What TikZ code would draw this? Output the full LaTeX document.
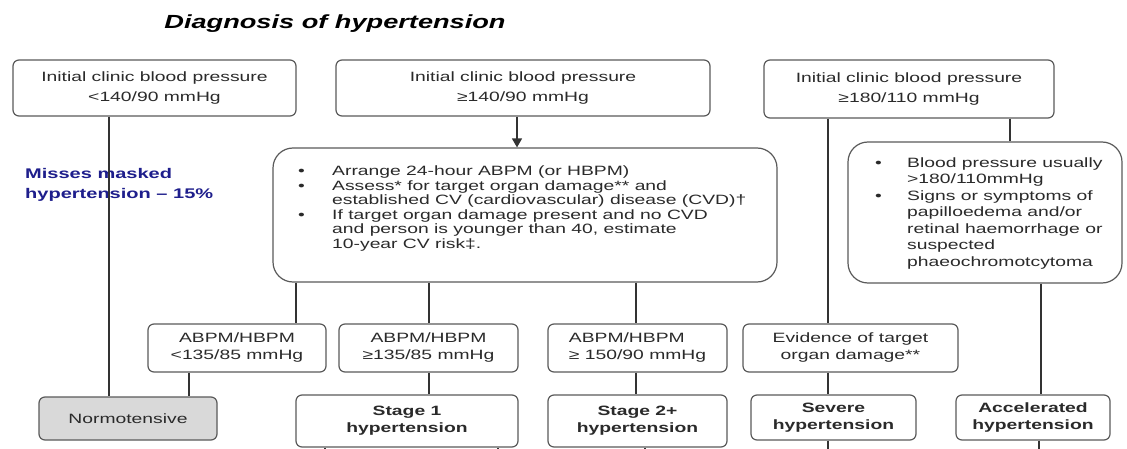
\documentclass[tikz,border=0pt]{standalone}
\usepackage{fontspec}
\setmainfont{Liberation Sans}[FakeStretch=1.43]
\usetikzlibrary{arrows.meta}
\definecolor{bordergray}{HTML}{5A5A5A}
\definecolor{linegray}{HTML}{333333}
\definecolor{txt}{HTML}{2A2A2A}
\definecolor{navy}{RGB}{30,30,140}
\definecolor{normfill}{HTML}{D9D9D9}
\begin{document}
\begin{tikzpicture}[x=1pt,y=-1pt,
  box/.style={draw=bordergray, line width=1.2pt, rounded corners=6pt, inner sep=0pt,
    align=center, text=txt, font=\fontsize{13.5}{17}\selectfont},
  topbox/.style={box, font=\fontsize{13.5}{20}\selectfont},
  bigbox/.style={box, rounded corners=20pt},
  outbox/.style={box, font=\bfseries\fontsize{13.5}{17}\selectfont},
  conn/.style={draw=linegray, line width=1.4pt},
  arr/.style={conn, -{Triangle[length=9pt,width=10pt]}},
  bullettext/.style={anchor=north west, inner sep=0pt, text=txt, align=left}
]
\useasboundingbox[fill=white] (0,0) rectangle (1127,449);

% title
\node[font=\bfseries\itshape\fontsize{19}{22}\selectfont, text=black] (title) at (335,24) {Diagnosis of hypertension};

% top boxes
\node[topbox, minimum width=283pt, minimum height=56pt] (A) at (154.5,88) {Initial clinic blood pressure\\<140/90 mmHg};
\node[topbox, minimum width=374pt, minimum height=56pt] (B) at (523,88) {Initial clinic blood pressure\\≥140/90 mmHg};
\node[topbox, minimum width=290pt, minimum height=58pt] (C) at (909,89) {Initial clinic blood pressure\\≥180/110 mmHg};

% large boxes
\node[bigbox, minimum width=504pt, minimum height=134pt] (M) at (525,215) {};
\node[bigbox, minimum width=274pt, minimum height=141pt] (R) at (985,212.5) {};

\node[bullettext, font=\fontsize{13.5}{14.6}\selectfont] (Mtxt) at (298,165) {%
\begin{tabular}{@{}p{34pt}@{}l@{}}
• & Arrange 24-hour ABPM (or HBPM)\\
• & Assess* for target organ damage** and\\
  & established CV (cardiovascular) disease (CVD)†\\
• & If target organ damage present and no CVD\\
  & and person is younger than 40, estimate\\
  & 10-year CV risk‡.
\end{tabular}};

\node[bullettext, font=\fontsize{13.5}{16.5}\selectfont] (Rtxt) at (875,155.5) {%
\begin{tabular}{@{}p{32pt}@{}l@{}}
• & Blood pressure usually\\
  & >180/110mmHg\\
• & Signs or symptoms of\\
  & papilloedema and/or\\
  & retinal haemorrhage or\\
  & suspected\\
  & phaeochromotcytoma
\end{tabular}};

% second row
\node[box, minimum width=178pt, minimum height=48pt] (P1) at (237,348) {ABPM/HBPM\\<135/85 mmHg};
\node[box, minimum width=179pt, minimum height=48pt] (P2) at (428.5,348) {ABPM/HBPM\\≥135/85 mmHg};
\node[box, minimum width=179pt, minimum height=48pt, align=left] (P3) at (637.5,348) {ABPM/HBPM\\≥ 150/90 mmHg};
\node[box, minimum width=215pt, minimum height=48pt] (Ev) at (850.5,348) {Evidence of target\\organ damage**};

% outcome row
\node[box, fill=normfill, minimum width=178pt, minimum height=43pt] (N) at (128,418.5) {Normotensive};
\node[outbox, minimum width=222pt, minimum height=52pt] (S1) at (407,421) {Stage 1\\hypertension};
\node[outbox, minimum width=179pt, minimum height=52pt] (S2) at (637.5,421) {Stage 2+\\hypertension};
\node[outbox, minimum width=165pt, minimum height=45pt] (Sev) at (833.5,417.5) {Severe\\hypertension};
\node[outbox, minimum width=154pt, minimum height=45pt] (Acc) at (1033,417.5) {Accelerated\\hypertension};

% side note
\node[anchor=west, align=left, inner sep=0pt, text=navy, font=\bfseries\fontsize{14}{20}\selectfont] (miss) at (25,185) {Misses masked\\hypertension – 15\%};

% x positions of connectors
\coordinate (xA) at (109,0);
\coordinate (xB) at (517,0);
\coordinate (x1) at (296,0);
\coordinate (x2) at (429,0);
\coordinate (x3) at (636,0);
\coordinate (xE) at (828,0);
\coordinate (xR) at (1010,0);
\coordinate (xAcc) at (1041,0);
\coordinate (xN) at (189,0);
\coordinate (xs1a) at (325,0);
\coordinate (xs1b) at (498,0);
\coordinate (xs2) at (645,0);
\coordinate (xacc2) at (1039,0);
\coordinate (bottom) at (0,462);

\draw[conn] (A.south -| xA) -- (N.north -| xA);
\draw[arr] (B.south -| xB) -- (M.north -| xB);
\draw[conn] (M.south -| x1) -- (P1.north -| x1);
\draw[conn] (M.south -| x2) -- (P2.north -| x2);
\draw[conn] (M.south -| x3) -- (P3.north -| x3);
\draw[conn] (C.south -| xE) -- (Ev.north -| xE);
\draw[conn] (C.south -| xR) -- (R.north -| xR);
\draw[conn] (R.south -| xAcc) -- (Acc.north -| xAcc);
\draw[conn] (P1.south -| xN) -- (N.north -| xN);
\draw[conn] (P2.south -| x2) -- (S1.north -| x2);
\draw[conn] (P3.south -| x3) -- (S2.north -| x3);
\draw[conn] (Ev.south -| xE) -- (Sev.north -| xE);
% continuations cut off at the lower edge
\draw[conn] (S1.south -| xs1a) -- (bottom -| xs1a);
\draw[conn] (S1.south -| xs1b) -- (bottom -| xs1b);
\draw[conn] (S2.south -| xs2) -- (bottom -| xs2);
\draw[arr] (Sev.south -| xE) -- (bottom -| xE);
\draw[conn] (Acc.south -| xacc2) -- (bottom -| xacc2);
\end{tikzpicture}
\end{document}
